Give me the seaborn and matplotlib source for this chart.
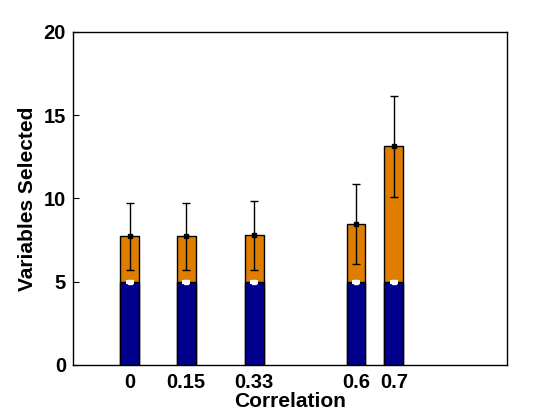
import matplotlib
matplotlib.use("Agg")
import matplotlib.pyplot as plt
import numpy as np
import pandas as pd
import seaborn as sns

correlation = [0.0, 0.15, 0.33, 0.6, 0.7]
tick_labels = ["0", "0.15", "0.33", "0.6", "0.7"]
true_vars = [5.0, 5.0, 5.0, 5.0, 5.0]
true_err = [0.06, 0.06, 0.06, 0.06, 0.06]
total_vars = [7.73, 7.73, 7.79, 8.45, 13.13]
total_err = [2.02, 2.02, 2.07, 2.4, 3.05]

BLUE = "#00008c"
ORANGE = "#de7d00"

sns.set_style("white")
plt.rcParams["font.family"] = ["Liberation Sans", "DejaVu Sans"]
plt.rcParams.update({
    "font.weight": "bold",
    "text.color": "black",
    "axes.labelcolor": "black",
    "xtick.color": "black",
    "ytick.color": "black",
})

df = pd.DataFrame({"corr": correlation, "total": total_vars, "true": true_vars})

fig = plt.figure(figsize=(5.6, 4.2), dpi=100)
ax = fig.add_axes([73 / 560, 55 / 420, 434 / 560, 333 / 420])

sns.barplot(data=df, x="corr", y="total", native_scale=True, width=0.5,
            color=ORANGE, saturation=1, edgecolor="black", linewidth=1.0, ax=ax)
sns.barplot(data=df, x="corr", y="true", native_scale=True, width=0.5,
            color=BLUE, saturation=1, edgecolor="black", linewidth=1.0, ax=ax)

ax.errorbar(correlation, total_vars, yerr=total_err, fmt="s", ms=2.5,
            color="black", ecolor="black", elinewidth=1.0, capsize=2.6, capthick=1.0)
ax.errorbar(correlation, true_vars, yerr=true_err, fmt="s", ms=2.5,
            color="white", ecolor="white", elinewidth=1.0, capsize=2.6, capthick=1.5)

ax.set_xlim(-0.15, 1.0)
ax.set_ylim(0, 20)
ax.set_xticks(correlation)
ax.set_xticklabels(tick_labels)
ax.set_yticks([0, 5, 10, 15, 20])
ax.tick_params(direction="in", length=4, width=0.8, labelsize=14.5,
               top=False, right=False, left=True, bottom=True)
ax.tick_params(axis="x", pad=6)
ax.tick_params(axis="y", pad=5)
for lab in ax.get_xticklabels() + ax.get_yticklabels():
    lab.set_fontweight("bold")
for sp in ax.spines.values():
    sp.set_visible(True)
    sp.set_color("black")
    sp.set_linewidth(1.0)
ax.set_xlabel("Correlation", fontsize=15, fontweight="bold", labelpad=0)
ax.set_ylabel("Variables Selected", fontsize=15, fontweight="bold", labelpad=5)
ax.grid(False)

fig.savefig("out.png", dpi=100)
